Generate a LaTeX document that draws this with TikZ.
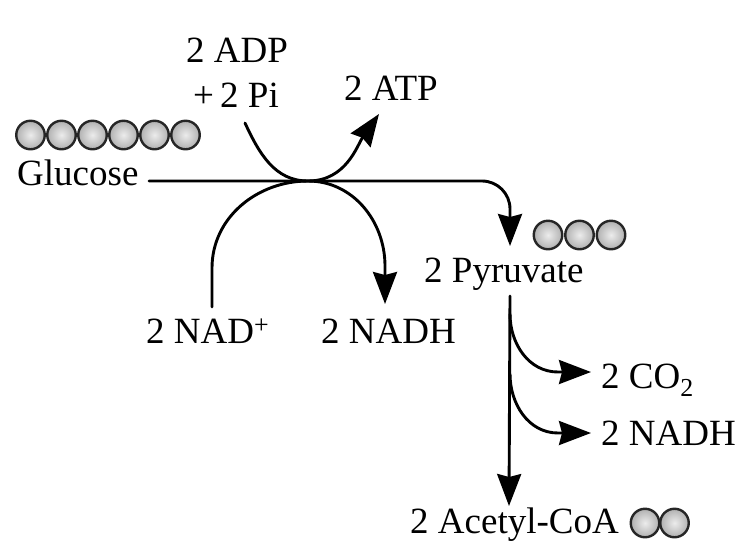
\documentclass[tikz,border=0pt]{standalone}
\usepackage{fontspec}
\setmainfont{Liberation Serif}
\usetikzlibrary{arrows.meta}
\begin{document}
\begin{tikzpicture}[x=1pt,y=-1pt,
  lbl/.style={anchor=base west,inner sep=0pt,font=\fontsize{37}{42}\selectfont},
  flow/.style={line width=2.9pt,line cap=round},
  arr/.style={flow,-{Stealth[length=32pt,width=24pt,inset=3pt]}},
  bead/.style={circle,draw=black!85,line width=2.4pt,minimum size=28.5pt,inner sep=0pt,
    inner color=gray!15,outer color=gray!62}]
\useasboundingbox (0,0) rectangle (743,550);

% carbon beads
\foreach \k in {0,...,5} \node[bead] (g\k) at (30.5+31*\k,135) {};
\foreach \k in {0,1,2} \node[bead] (p\k) at (548+31.5*\k,235) {};
\foreach \k in {0,1} \node[bead] (a\k) at (645+29.5*\k,523) {};

% labels
\node[lbl] (glucose) at (17,185) {Glucose};
\node[lbl] (adp) at (186,62) {2 ADP};
\node[lbl] (pi) at (193,107) {+\,2 Pi};
\node[lbl] (atp) at (344,100) {2 ATP};
\node[lbl] (nad) at (146,343) {2 NAD\textsuperscript{+}};
\node[lbl] (nadhA) at (321,343) {2 NADH};
\node[lbl] (pyr) at (424,282) {2 Pyruvate};
\node[lbl] (co2) at (601,388) {2 CO\textsubscript{2}};
\node[lbl] (nadhB) at (601,445) {2 NADH};
\node[lbl] (acoa) at (410,533) {2 Acetyl-CoA};

% junction points
\coordinate (hub) at (308,181);
\coordinate (gin) at (149,181);
\coordinate (pyrin) at (510,246);
\coordinate (adpout) at (245,123);
\coordinate (atpin) at (379,114);
\coordinate (nadout) at (212,307);
\coordinate (nadhin) at (385,304);
\coordinate (pyrout) at (510,296);
\coordinate (acoain) at (509,506);
\coordinate (br1) at (510,314);
\coordinate (br2) at (510,374);
\coordinate (co2in) at (591,372);
\coordinate (nadhBin) at (591,433);

% glucose -> pyruvate
\draw[arr] (gin) -- (hub) -- (482,181) to[out=0,in=90] (510,209) -- (pyrin);
% ADP -> ATP
\draw[arr] (adpout) to[out=-65,in=180] (hub) to[out=0,in=235] (atpin);
% NAD+ -> NADH
\draw[arr] (nadout) -- (212,268) to[out=90,in=180] (hub) to[out=0,in=90] (385,266) -- (nadhin);
% pyruvate -> acetyl-CoA with side products
\draw[arr] (pyrout) -- (acoain);
\draw[arr] (br1) to[out=-90,in=180] (558,372) -- (co2in);
\draw[arr] (br2) to[out=-90,in=180] (558,433) -- (nadhBin);
\end{tikzpicture}
\end{document}
